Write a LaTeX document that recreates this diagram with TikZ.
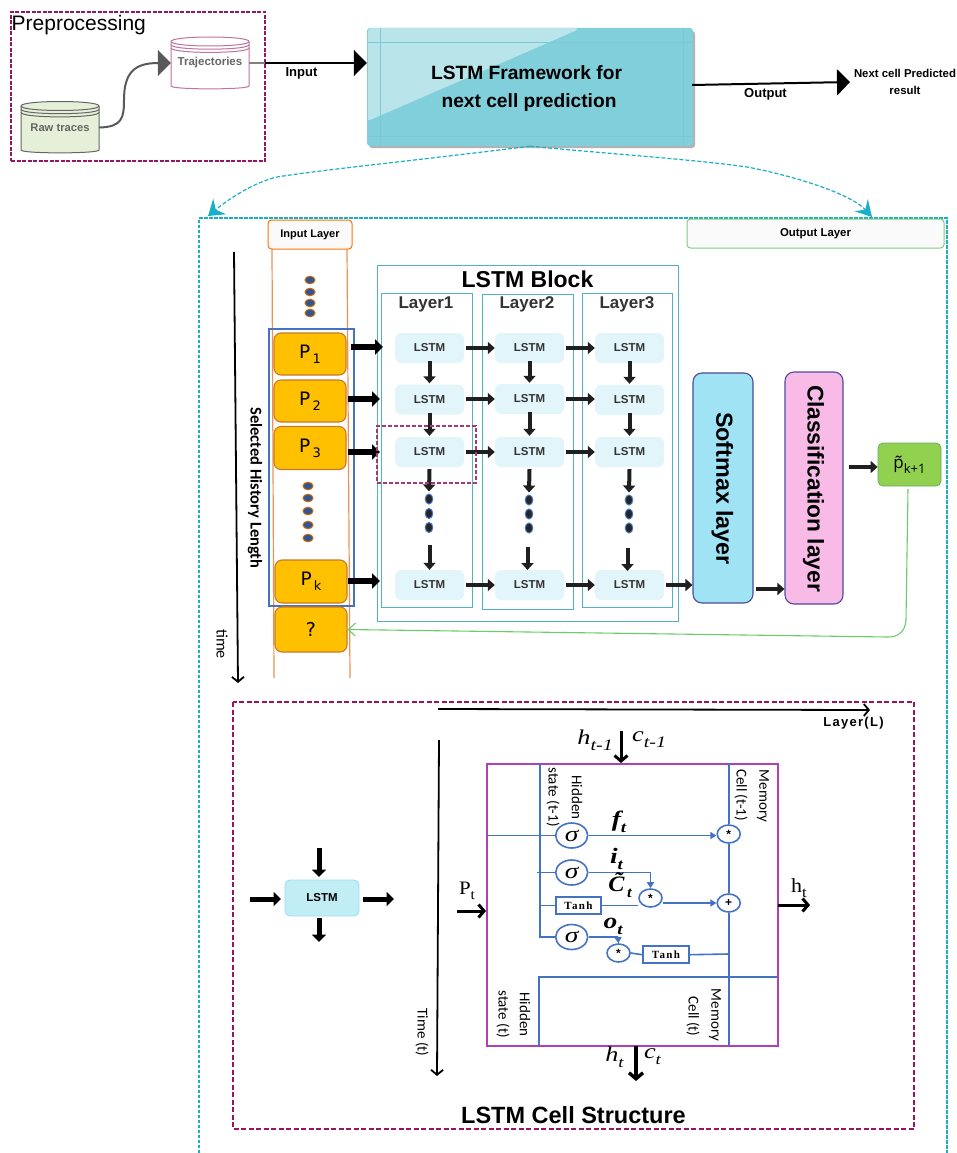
\documentclass[tikz,border=0pt]{standalone}
\usepackage{fontspec}
\setmainfont{Liberation Sans}
\newfontfamily\carl{Carlito}
\newfontfamily\ser{Liberation Serif}
\newfontfamily\ptf{Open Sans}
\newfontfamily\dvs{DejaVu Sans}
\usetikzlibrary{arrows.meta,shapes.geometric,calc}
\newcommand\fsz[1]{\fontsize{#1}{#1}\selectfont}
\newcommand\lab[4]{{\fsz{#1}#3\raisebox{-0.28em}{\fsz{#2}#4}}}
\newcommand\wid[2]{\scalebox{#1}[1]{#2}}
\definecolor{tealb}{HTML}{1AAFC8}
\definecolor{purp}{HTML}{961560}
\definecolor{blk}{HTML}{4472C4}
\definecolor{cellp}{HTML}{B040B8}
\definecolor{lay}{HTML}{4DB4C0}
\definecolor{lstmf}{HTML}{E2F5FA}
\definecolor{orangeb}{HTML}{C87A2A}
\definecolor{pfill}{HTML}{FFC000}
\definecolor{dotb}{HTML}{2F5597}
\definecolor{frameb}{HTML}{80CFDB}
\definecolor{framel}{HTML}{B9E5EA}
\definecolor{softb}{HTML}{9FE3F5}
\definecolor{classb}{HTML}{F8BBE8}
\definecolor{pgreen}{HTML}{92D050}
\definecolor{fbg}{HTML}{6CCB6C}
\definecolor{minif}{HTML}{C1EEF5}
\definecolor{rawf}{HTML}{E6F0D8}
\definecolor{orl}{HTML}{F0914F}
\newcommand\cylbody[7]{% x1 x2 top bottom ry fill stroke
  \path[draw=#7,fill=#6,line width=1pt] (#1,#3) .. controls (#1,#3-#5*1.33) and (#2,#3-#5*1.33) .. (#2,#3)
    -- (#2,#4) .. controls (#2,#4+#5*0.85) and (#1,#4+#5*0.85) .. (#1,#4) -- cycle;
  \foreach \o in {0,3.2,6.4}{\draw[#7,line width=1pt] (#1,#3+\o) .. controls (#1,#3+\o+#5*1.33) and (#2,#3+\o+#5*1.33) .. (#2,#3+\o);}
}
\tikzset{
  fat/.style={draw=black!88,line width=4pt,-{Triangle[length=7pt,width=12pt]}},
  fatp/.style={draw=black,line width=5.2pt,-{Triangle[length=8pt,width=15pt]}},
  fatin/.style={draw=black,line width=5pt,-{Triangle[length=7.5pt,width=14pt]}},
  thinarr/.style={draw=black,line width=1.8pt,-{Straight Barb[length=5pt,width=12pt]}},
  medarr/.style={draw=black,line width=3pt,-{Straight Barb[length=5.5pt,width=13pt]}},
  bigtip/.style={-{Triangle[length=13pt,width=26pt]}},
  lstm/.style={fill=lstmf,rounded corners=6pt,minimum width=69pt,minimum height=30pt,inner sep=0pt,font=\fsz{11.5}\bfseries,text=black!80},
  pbox/.style={fill=pfill,draw=orangeb,line width=1.1pt,rounded corners=7pt,minimum width=72pt,inner sep=0pt},
  layerbox/.style={draw=lay,line width=1.3pt,inner sep=0pt,anchor=north west},
  odot/.style={ellipse,fill=dotb,draw=orange!80!black,line width=1pt,minimum width=10pt,minimum height=7.5pt,inner sep=0pt},
  kdot/.style={ellipse,fill=black!85,draw=blk,line width=1pt,minimum width=7.5pt,minimum height=10pt,inner sep=0pt},
  bl/.style={draw=blk,line width=1.6pt},
  blarr/.style={draw=blk,line width=1.6pt,-{Triangle[length=6pt,width=7pt]}},
  opc/.style={ellipse,draw=blk,fill=white,line width=1.6pt,inner sep=0pt},
  sig/.style={opc,minimum width=32pt,minimum height=25pt,font=\ser\itshape\fsz{22}},
  mini/.style={opc,minimum width=23pt,minimum height=18pt,font=\bfseries\fsz{12}},
  tanh/.style={draw=blk,fill=white,line width=1.6pt,minimum height=17pt,inner sep=0pt,font=\ser\bfseries\fsz{11}},
  vtxt/.style={rotate=-90,inner sep=0pt,font=\carl\fsz{15}},
}
\begin{document}
\begin{tikzpicture}[x=1pt,y=-1pt]
\useasboundingbox (0,0) rectangle (956,1153);
% ---------- preprocessing
\node[draw=purp,dash pattern=on 4pt off 1.5pt,line width=1.4pt,minimum width=254pt,minimum height=149pt,inner sep=0pt] (pre) at (138,86.5) {};
\node[anchor=west,inner sep=0pt,font=\fsz{21}] (pretxt) at (11.5,25) {Preprocessing};
\cylbody{21}{99}{106}{150}{4.5}{rawf}{black!60}
\cylbody{171}{249}{41.5}{86}{4.5}{white}{purp!60}
\node[minimum width=78pt,minimum height=51pt,inner sep=0pt,font=\fsz{11.2}\bfseries,text=black!60] (raw) at (60,127.5) {Raw traces};
\node[minimum width=78pt,minimum height=52pt,inner sep=0pt,font=\fsz{11.5}\bfseries,text=black!60] (traj) at (210,63) {Trajectories};
\draw[draw=black!65,line width=2pt,bigtip] (raw.east) .. controls (122,127) and (124,118) .. (124,100) .. controls (124,72) and (135,63) .. (traj.west);
% ---------- framework
\fill[black!30,rounded corners=3pt] (369,31) rectangle (695,148);
\node[fill=frameb,rounded corners=3pt,minimum width=326pt,minimum height=118pt,inner sep=0pt] (frame) at (530,87) {};
\fill[framel] (368,118) -- (368,32) .. controls (368,29) and (369,28) .. (372,28) -- (574,28) .. controls (578,28) and (578,30) .. (575,31) -- (370,120) .. controls (368,121) and (368,120) .. (368,118) -- cycle;
\draw[frameb!97!black,line width=0.3pt] (367,42) -- (693,42) (367,136) -- (693,136) (380,28) -- (380,146) (683,28) -- (683,146);
\node[inner sep=0pt,font=\fsz{19.2}\bfseries] (ft1) at (526.5,73) {LSTM Framework for};
\node[inner sep=0pt,font=\fsz{19.2}\bfseries] (ft2) at (529,102.5) {next cell prediction};
\draw[black,line width=2pt,bigtip] (traj.east) -- (frame.west |- traj.east);
\draw[black!50,line width=2pt] (traj.east) -- (265,63);
\node[inner sep=0pt,font=\fsz{13}\bfseries] (inl) at (301.5,73.5) {Input};
\coordinate (nextc) at (850,82);
\draw[black,line width=2pt,bigtip] (692,85) -- (nextc);
\node[inner sep=0pt,font=\fsz{13}\bfseries] (outl) at (765.5,94) {Output};
\node[inner sep=0pt,font=\fsz{11.4}\bfseries] (nx1) at (905,73) {Next cell Predicted};
\node[inner sep=0pt,font=\fsz{11.4}\bfseries] (nx2) at (905,90) {result};
% ---------- outer dashed
\draw[tealb,line width=1.3pt,dash pattern=on 3.5pt off 1.5pt] (199,1153) -- (199,218) -- (947,218) -- (947,1153);
\coordinate (outl1) at (208,216);
\coordinate (outr1) at (872,217);
\draw[tealb,line width=1.2pt,dash pattern=on 4pt off 2pt,-{Stealth[length=15pt,width=20pt,inset=5pt]}] (frame.south) .. controls (420,160) and (320,170) .. (277,177) .. controls (255,182) and (230,198) .. (outl1);
\draw[tealb,line width=1.2pt,dash pattern=on 4pt off 2pt,-{Stealth[length=16pt,width=18pt,inset=6pt]}] (frame.south) .. controls (600,153) and (700,160) .. (747,167) .. controls (790,175) and (850,193) .. (outr1);
% ---------- layers headers
\node[draw=orange!90!red,fill=black!2,rounded corners=3.5pt,line width=1pt,minimum width=84pt,minimum height=29pt,inner sep=0pt,font=\fsz{11}\bfseries] (inlayer) at (310,234.5) {Input Layer};
\node[draw=green!60!black!50,fill=black!2,rounded corners=3.5pt,line width=1pt,minimum width=257pt,minimum height=29pt,inner sep=0pt,font=\fsz{11.4}\bfseries] (outlayer) at (815.5,233.5) {Output Layer};
\draw[orl,line width=1.2pt] (272,249) -- (274,678);
\draw[orl,line width=1.2pt] (347,249) -- (350,678);
% time arrow
\draw[thinarr] (234,252) -- (238,683);
\node[rotate=-90,inner sep=0pt,font=\carl\fsz{16}] (timet) at (222,644) {time};
\node[rotate=-90,inner sep=0pt,font=\carl\bfseries\fsz{16.5}] (hist) at (255,488) {Selected History Length};
% history box + P nodes
\draw[blk,line width=1.6pt] (269,329) rectangle (354,606);
\node[pbox,minimum height=42pt] (p1) at (310,354) {\dvs\lab{18.5}{13}{P}{\,1}};
\node[pbox,minimum height=42pt] (p2) at (310,401) {\dvs\lab{18.5}{13}{P}{\,2}};
\node[pbox,minimum height=43pt] (p3) at (310,448) {\dvs\lab{18.5}{13}{P}{\,3}};
\node[pbox,minimum height=43pt] (pk) at (311,581.5) {\dvs\lab{18.5}{13}{P}{\,k}};
\node[pbox,minimum height=45pt] (pq) at (311,629.5) {\dvs\fsz{19}?};
\foreach \n/\y in {a/280,b/292,c/303,d/313}{\node[odot] (up\n) at (310,\y) {};}
\foreach \n/\y in {a/486,b/498,c/511,d/525,e/538}{\node[odot] (mid\n) at (308,\y) {};}
% LSTM block
\node[layerbox,minimum width=301pt,minimum height=356pt] (blk) at (377,265) {};
\node[inner sep=0pt,font=\fsz{23}\bfseries] (blkt) at (527.5,279) {LSTM Block};
\node[layerbox,minimum width=91pt,minimum height=314pt] (lay1) at (381,293) {};
\node[layerbox,minimum width=91pt,minimum height=315pt] (lay2) at (482,294) {};
\node[layerbox,minimum width=90pt,minimum height=314pt] (lay3) at (582,293) {};
\foreach \n/\x in {1/426,2/527,3/627}{\node[inner sep=0pt,font=\fsz{17}\bfseries,text=black!80] (lt\n) at (\x,304) {Layer\n};}
% LSTM cells
\node[lstm] (a1) at (429.5,348) {LSTM};
\node[lstm] (a2) at (429.5,399.5) {LSTM};
\node[lstm] (a3) at (429.5,452) {LSTM};
\node[lstm] (a4) at (429.5,585) {LSTM};
\node[lstm] (b1) at (529.5,348) {LSTM};
\node[lstm] (b2) at (529.5,399) {LSTM};
\node[lstm] (b3) at (529.5,452) {LSTM};
\node[lstm] (b4) at (529.5,585) {LSTM};
\node[lstm] (c1) at (629.5,348) {LSTM};
\node[lstm] (c2) at (629.5,400) {LSTM};
\node[lstm] (c3) at (629.5,452) {LSTM};
\node[lstm] (c4) at (629.5,585) {LSTM};
% black dots
\foreach \c/\x/\ya/\yb/\yc in {a/429/499/513.5/527.5,b/529/500/514/528,c/629/500/514/528}{
  \node[kdot] (\c d1) at (\x,\ya) {};
  \node[kdot] (\c d2) at (\x,\yb) {};
  \node[kdot] (\c d3) at (\x,\yc) {};
}
% horizontal arrows
\foreach \r in {1,2,3,4}{
  \draw[fat,shorten <=2pt] (a\r.east |- b\r.east) -- (b\r.west);
  \draw[fat,shorten <=2pt] (b\r.east) -- (c\r.west |- b\r.east);
}
% vertical arrows
\foreach \c in {a,b,c}{
  \draw[fat] ($(\c1.south)+(0,-2)$) -- ($(\c2.north)+(0,-1)$);
  \draw[fat] ($(\c2.south)+(0,-2)$) -- ($(\c3.north)+(0,-1)$);
  \draw[fat] ($(\c3.south)+(0,2)$) -- ($(\c d1.north)+(0,-2)$);
}
\draw[fat] (429.5,545) -- (a4.north);
\draw[fat] (527.5,547) -- (527.5,570);
\draw[fat] (627.5,548) -- (627.5,571);
% input arrows
\draw[fatp] (351,347) -- (383,347);
\draw[fatp] (348,399) -- (380,399);
\draw[fatp] (348,452) -- (380,452);
\draw[fatp] (348,581) -- (380,581);
% dashed selection
\node[draw=purp!85!white,dash pattern=on 4pt off 2pt,line width=1.6pt,minimum width=99pt,minimum height=57pt,inner sep=0pt,anchor=north west] (sel) at (376,425) {};
% softmax etc
\node[draw=blue!40!black!70,fill=softb,rounded corners=9pt,line width=1.1pt,minimum width=60pt,minimum height=230pt,inner sep=0pt] (soft) at (723,488) {};
\node[rotate=-90,inner sep=0pt,font=\fsz{23.3}\bfseries] (softt) at (722.5,488.5) {Softmax layer};
\node[draw=blue!45!black!70,fill=classb,rounded corners=9pt,line width=1.1pt,minimum width=58pt,minimum height=232pt,inner sep=0pt] (cls) at (814,488) {};
\node[rotate=-90,inner sep=0pt,font=\fsz{22.7}\bfseries] (clst) at (813.5,488.5) {Classification layer};
\node[draw=green!45!black!60,fill=pgreen,rounded corners=5pt,line width=0.8pt,minimum width=63pt,minimum height=43pt,inner sep=0pt] (pt) at (909.5,464.5) {\ptf\lab{17}{13}{\~{p}}{k+1}};
\draw[fat,shorten <=2pt] (c4.east) -- (soft.west |- c4.east);
\draw[fat] (756,589) -- (cls.west |- 756,589);
\draw[fat] (849,467) -- (pt.west |- 849,467);
\coordinate (fbstart) at (908,489);
\draw[draw=fbg,line width=1.1pt,-{Straight Barb[length=7pt,width=13pt]}] (fbstart) -- (906,620) .. controls (905,632) and (898,637) .. (888,637) -- (pq.east);
% ---------- lower box
\draw[draw=purp,line width=1.7pt,dash pattern=on 5pt off 2.5pt] (233,702) rectangle (914,1129);
\node[inner sep=0pt,font=\fsz{23.5}\bfseries] (cst) at (573.5,1115.5) {LSTM Cell Structure};
\draw[thinarr] (438,709) -- (870,710);
\node[inner sep=0pt,font=\fsz{13}\bfseries] (lyr) at (853.5,723.5) {\addfontfeature{LetterSpace=10}Layer(L)};
\draw[thinarr] (439,740) -- (437,1076);
\node[rotate=-90,inner sep=0pt,font=\carl\fsz{15}] (tt) at (422,1032.5) {Time (t)};
% mini lstm
\node[draw=cyan!40!white,fill=minif,rounded corners=5pt,line width=0.9pt,minimum width=74pt,minimum height=36pt,inner sep=0pt,font=\fsz{11.5}\bfseries] (ml) at (322,898) {LSTM};
\coordinate (mlt) at (319,848);
\coordinate (mll) at (250,899);
\coordinate (mlr) at (394,899);
\coordinate (mlb) at (319,942);
\draw[fatin] (mlt) -- (319,877);
\draw[fatin] (mll) -- (281,899);
\draw[fatin] (363,899) -- (mlr);
\draw[fatin] (319,918) -- (mlb);
% ---------- cell
\node[draw=cellp,line width=1.7pt,minimum width=291pt,minimum height=282pt,inner sep=0pt,anchor=north west] (cell) at (486,763) {};
\draw[medarr] (621,731) -- (cell.north -| 621,731);
\node[anchor=east,inner sep=0pt] (htm) at (613,740) {\ser\itshape\wid{1.25}{\lab{21}{16}{h}{t-1}}};
\node[anchor=west,inner sep=0pt] (ctm) at (632,740) {\ser\itshape\wid{1.25}{\lab{21}{16}{c}{t-1}}};
% blue lines
\node[sig] (s1) at (571.7,835.5) {\wid{1.25}{σ}};
\node[sig] (s2) at (571.7,872.5) {\wid{1.25}{σ}};
\node[sig] (s3) at (571.7,937) {\wid{1.25}{σ}};
\node[mini] (m1) at (728.7,834) {*};
\node[mini] (m2) at (728.7,903) {+};
\node[mini] (m3) at (650.5,898) {*};
\node[mini] (m4) at (618.5,953) {*};
\node[tanh,minimum width=45pt] (t1) at (578.5,905.3) {\addfontfeature{LetterSpace=12}Tanh};
\node[tanh,minimum width=46pt] (t2) at (666,954.7) {\addfontfeature{LetterSpace=12}Tanh};
\draw[bl] (540,763) -- (540,937) -- (s3.west);
\draw[bl,line width=1.8pt] (m1.north) -- (728.7,763);
\draw[bl,line width=2pt] (m1.south) -- (m2.north);
\draw[bl,line width=2pt] (m2.south) -- (728.7,1045);
\draw[bl] (486,835.5) -- (s1.west);
\draw[blarr] (s1.east) -- (m1.west |- s1.east);
\draw[bl] (537,872.5) -- (s2.west);
\draw[blarr] (s2.east) -- (650.5,872.5) -- (m3.north);
\draw[bl] (540,905.3) -- (t1.west);
\draw[bl] (t1.east) -- (m3.west |- t1.east) ;
\draw[blarr] (m3.east |- 0,903) -- (m2.west);
\draw[bl] (s3.east) -- (618,937);
\draw[blarr] (618,937) -- (m4.north);
\draw[bl] (m4.east) -- (t2.west);
\draw[bl] (t2.east) -- (728.7,954);
\draw[bl,line width=1.8pt] (540,977) -- (777,977);
\draw[bl,line width=1.8pt] (539,976) -- (539,1045);
% vertical labels
\node[vtxt] (h1) at (577,797.5) {Hidden};
\node[vtxt] (h2) at (553,797) {state (t-1)};
\node[vtxt] (m1t) at (763,796) {Memory};
\node[vtxt] (m2t) at (741,795) {Cell (t-1)};
\node[vtxt] (h3) at (525,1014.5) {Hidden};
\node[vtxt] (h4) at (503,1014) {state (t)};
\node[vtxt] (m3t) at (715,1015) {Memory};
\node[vtxt] (m4t) at (693,1016.5) {Cell (t)};
% math labels
\node[inner sep=0pt] (ft) at (619,822) {\ser\bfseries\itshape\wid{1.25}{\lab{22}{15}{f}{t}}};
\node[inner sep=0pt] (it) at (616.5,859) {\ser\bfseries\itshape\wid{1.25}{\lab{22}{15}{i}{t}}};
\node[inner sep=0pt] (ct) at (620,885) {\ser\bfseries\itshape\wid{1.1}{\lab{22}{15}{\~{C}}{\,t}}};
\node[inner sep=0pt] (ot) at (613,926) {\ser\bfseries\itshape\wid{1.25}{\lab{22}{15}{o}{t}}};
\node[inner sep=0pt] (ptx) at (467,891) {\ser\wid{1.1}{\lab{19}{14}{P}{t}}};
\draw[medarr] (457,911) -- (cell.west |- 457,911);
\node[inner sep=0pt] (htx) at (799,888) {\ser\wid{1.1}{\lab{20}{15}{h}{t}}};
\coordinate (hte) at (810,905);
\draw[medarr] (778,905) -- (hte);
\coordinate (bte) at (636,1081);
\draw[draw=black,line width=3.4pt,-{Straight Barb[length=6pt,width=14pt]}] (636,1046) -- (bte);
\node[inner sep=0pt] (hb) at (614.5,1057) {\ser\itshape\wid{1.25}{\lab{21}{15}{h}{t}}};
\node[inner sep=0pt] (cb) at (652.5,1057) {\ser\itshape\wid{1.25}{\lab{21}{15}{c}{t}}};
\end{tikzpicture}
\end{document}
